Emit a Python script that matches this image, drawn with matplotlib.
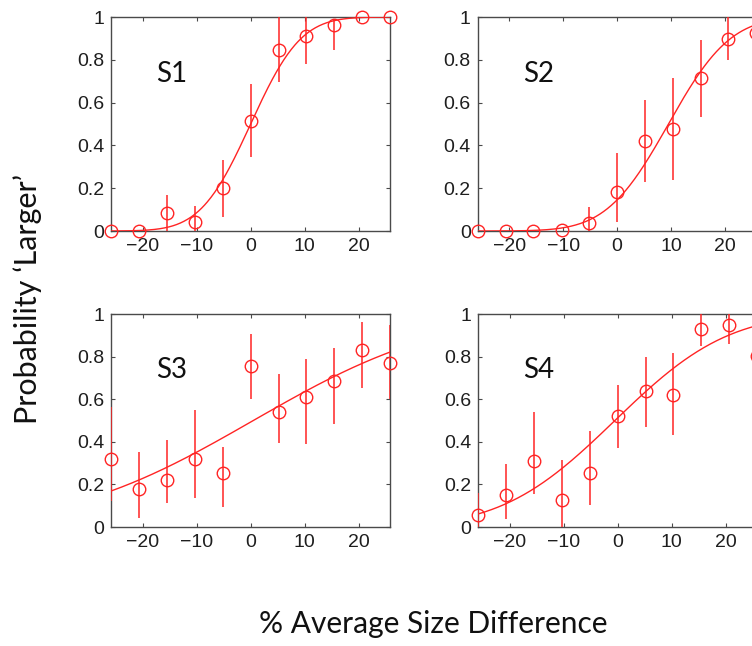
import math
import numpy as np
import matplotlib
matplotlib.use("Agg")
import matplotlib.pyplot as plt

# ---------------- data ----------------
size_diff = [-25.8, -20.6, -15.5, -10.3, -5.2, 0.0, 5.2, 10.3, 15.5, 20.6, 25.8]
subjects = ["S1", "S2", "S3", "S4"]

s1_prob = [0.0, 0.0, 0.083, 0.04, 0.2, 0.516, 0.848, 0.911, 0.961, 1.0, 1.0]
s1_lo   = [0.0, 0.0, 0.0, 0.0, 0.066, 0.344, 0.698, 0.78, 0.844, 1.0, 1.0]
s1_hi   = [0.0, 0.0, 0.167, 0.117, 0.331, 0.688, 1.0, 1.0, 0.99, 1.0, 1.0]

s2_prob = [0.0, 0.0, 0.0, 0.003, 0.039, 0.183, 0.422, 0.477, 0.714, 0.898, 0.925]
s2_lo   = [0.0, 0.0, 0.0, 0.003, 0.0, 0.044, 0.23, 0.238, 0.534, 0.80, 0.85]
s2_hi   = [0.0, 0.0, 0.0, 0.003, 0.114, 0.364, 0.614, 0.714, 0.894, 1.0, 1.0]

s3_prob = [0.317, 0.177, 0.223, 0.318, 0.252, 0.754, 0.539, 0.610, 0.685, 0.832, 0.768]
s3_lo   = [0.12, 0.044, 0.113, 0.138, 0.094, 0.602, 0.395, 0.392, 0.483, 0.654, 0.599]
s3_hi   = [0.564, 0.35, 0.41, 0.549, 0.376, 0.904, 0.718, 0.787, 0.842, 0.961, 0.948]

s4_prob = [0.055, 0.152, 0.309, 0.125, 0.252, 0.522, 0.638, 0.622, 0.928, 0.947, 0.805]
s4_lo   = [0.0, 0.039, 0.157, 0.0, 0.102, 0.373, 0.47, 0.431, 0.851, 0.859, 0.65]
s4_hi   = [0.16, 0.298, 0.541, 0.313, 0.451, 0.669, 0.80, 0.815, 1.0, 1.0, 0.95]

# fitted cumulative-normal parameters (mean, sd) for each subject
fit_mu    = [0.0, 9.5, 0.5, -0.5]
fit_sigma = [7.3, 9.0, 27.5, 16.4]

x_ticks = [-20, -10, 0, 10, 20]
y_ticks = [0, 0.2, 0.4, 0.6, 0.8, 1]
y_ticklabels = ["0", "0.2", "0.4", "0.6", "0.8", "1"]

ylabel_text = "Probability \u2018Larger\u2019"
xlabel_text = "% Average Size Difference"

# ---------------- figure ----------------
W, H = 752, 646
fig = plt.figure(figsize=(W / 100, H / 100), dpi=100)
fig.patch.set_facecolor("white")

red = "#ff2424"
spine_col = "#4a4a4a"
text_col = "#1e1e1e"

probs = [s1_prob, s2_prob, s3_prob, s4_prob]
los = [s1_lo, s2_lo, s3_lo, s4_lo]
his = [s1_hi, s2_hi, s3_hi, s4_hi]

# axes boxes in pixels: (left, top, right, bottom)
boxes = [
    (111.3, 17.0, 390.0, 231.0),
    (477.8, 17.0, 756.5, 231.0),
    (111.3, 314.0, 390.0, 527.0),
    (478.3, 314.0, 757.0, 527.0),
]

xlim = (size_diff[0], size_diff[-1])
xs = np.linspace(xlim[0], xlim[1], 300)

for i, name in enumerate(subjects):
    l, t, r, b = boxes[i]
    ax = fig.add_axes([l / W, 1 - b / H, (r - l) / W, (b - t) / H])
    ax.set_xlim(*xlim)
    ax.set_ylim(0, 1)
    x = np.array(size_diff)
    p = np.array(probs[i])
    lo = np.array(los[i])
    hi = np.array(his[i])
    ax.vlines(x, lo, hi, color=red, lw=1.1, zorder=3)
    mu, sd = fit_mu[i], fit_sigma[i]
    curve = np.array([0.5 * (1 + math.erf((v - mu) / (sd * math.sqrt(2)))) for v in xs])
    ax.plot(xs, curve, color=red, lw=1.0, zorder=3)
    ax.plot(x, p, linestyle="none", marker="o", markersize=9, markerfacecolor="none",
            markeredgecolor=red, markeredgewidth=1.0, clip_on=False, zorder=4)
    ax.text(-17.5, 0.735, name, fontsize=20, family="Lato", color="#111111",
            ha="left", va="center")
    ax.set_xticks(x_ticks)
    ax.set_xticklabels([str(v) if v >= 0 else "\u2212" + str(-v) for v in x_ticks])
    ax.set_yticks(y_ticks)
    ax.set_yticklabels(y_ticklabels)
    ax.tick_params(direction="in", length=3, width=0.8, color=spine_col,
                   top=True, right=True, labelsize=14, labelcolor=text_col)
    ax.tick_params(axis="x", pad=5)
    ax.tick_params(axis="y", pad=5)
    for lab in ax.get_xticklabels() + ax.get_yticklabels():
        lab.set_family("Liberation Sans")
    for s in ax.spines.values():
        s.set_color(spine_col)
        s.set_linewidth(1.0)

fig.text(28 / W, 1 - 299 / H, ylabel_text, rotation=90, fontsize=22, family="Lato",
         color="#111111", ha="center", va="center")
fig.text(433 / W, 1 - 633 / H, xlabel_text, fontsize=21.5, family="Lato",
         color="#111111", ha="center", va="baseline")

fig.savefig("out.png", dpi=100, facecolor="white")
